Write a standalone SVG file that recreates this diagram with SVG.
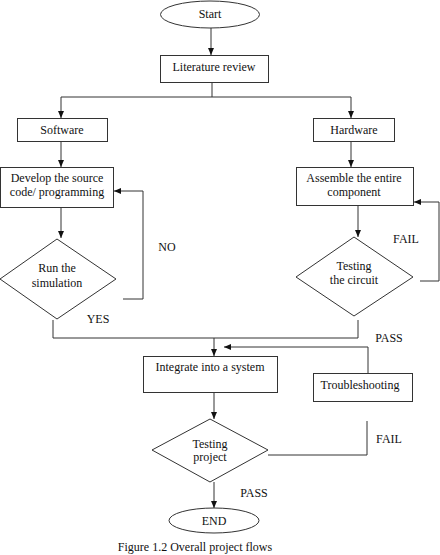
<svg xmlns="http://www.w3.org/2000/svg" width="440" height="555" viewBox="0 0 440 555">
<style>
.s{fill:#fff;stroke:#333;stroke-width:1}
.c{fill:none;stroke:#333;stroke-width:1}
text{font-family:"Liberation Serif","Times New Roman",serif;font-size:12px;fill:#111;text-anchor:middle}
</style>
<defs>
<marker id="a" markerWidth="8" markerHeight="8" refX="7" refY="4" orient="auto" markerUnits="userSpaceOnUse">
<path d="M0,1 L7,4 L0,7 Z" fill="#111"/>
</marker>
</defs>
<rect width="440" height="555" fill="#fff"/>
<g id="connectors">
<path class="c" d="M211,28 V55" marker-end="url(#a)"/>
<path class="c" d="M212,82 V97 M61,97 H351"/>
<path class="c" d="M61,97 V118" marker-end="url(#a)"/>
<path class="c" d="M351,97 V118" marker-end="url(#a)"/>
<path class="c" d="M61,141 V167" marker-end="url(#a)"/>
<path class="c" d="M61,207 V238" marker-end="url(#a)"/>
<path class="c" d="M123,299 H143 V191 H114" marker-end="url(#a)"/>
<path class="c" d="M351,141 V167" marker-end="url(#a)"/>
<path class="c" d="M358,205 V237" marker-end="url(#a)"/>
<path class="c" d="M420,281 H439 V202 H414" marker-end="url(#a)"/>
<path class="c" d="M53,320 V338 H358 V320"/>
<path class="c" d="M214,338 V356" marker-end="url(#a)"/>
<path class="c" d="M368,373 V347 H224" marker-end="url(#a)"/>
<path class="c" d="M214,392 V419" marker-end="url(#a)"/>
<path class="c" d="M268,455 H367 V421"/>
<path class="c" d="M214,482 V508" marker-end="url(#a)"/>
</g>
<g id="start"><ellipse class="s" cx="210" cy="14.5" rx="49.5" ry="13.5"/><text x="210" y="18">Start</text></g>
<g id="literature"><rect class="s" x="160.5" y="55.5" width="108" height="27"/><text x="214" y="71">Literature review</text></g>
<g id="software"><rect class="s" x="17.5" y="118.5" width="90" height="23"/><text x="62" y="134">Software</text></g>
<g id="hardware"><rect class="s" x="313.5" y="118.5" width="81" height="23"/><text x="354" y="134">Hardware</text></g>
<g id="develop"><rect class="s" x="0.5" y="167.5" width="113" height="40"/><text x="57" y="182">Develop the source</text><text x="57" y="196">code/ programming</text></g>
<g id="runsim"><path class="s" d="M57,239 L116,279 L57,319 L0,279 Z"/><text x="57" y="272">Run the</text><text x="57" y="287">simulation</text></g>
<g id="assemble"><rect class="s" x="296.5" y="167.5" width="117" height="38"/><text x="354" y="182">Assemble the entire</text><text x="354" y="196">component</text></g>
<g id="testcircuit"><path class="s" d="M354,237 L413,277 L354,316 L296,277 Z"/><text x="354" y="270">Testing</text><text x="354" y="284">the circuit</text></g>
<g id="integrate"><rect class="s" x="143.5" y="356.5" width="134" height="36"/><text x="210" y="371">Integrate into a system</text></g>
<g id="troubleshooting"><rect class="s" x="313.5" y="373.5" width="99" height="28"/><text x="360" y="389">Troubleshooting</text></g>
<g id="testproject"><path class="s" d="M210,419 L268,450 L210,482 L152,450 Z"/><text x="210" y="448">Testing</text><text x="210" y="461">project</text></g>
<g id="end"><ellipse class="s" cx="214" cy="520.5" rx="45" ry="12.5"/><text x="214" y="525">END</text></g>
<g id="labels">
<text x="167" y="251">NO</text>
<text x="98" y="323">YES</text>
<text x="406" y="243">FAIL</text>
<text x="389" y="342">PASS</text>
<text x="389" y="443">FAIL</text>
<text x="254" y="497">PASS</text>
<text x="195" y="551">Figure 1.2 Overall project flows</text>
</g>
</svg>
